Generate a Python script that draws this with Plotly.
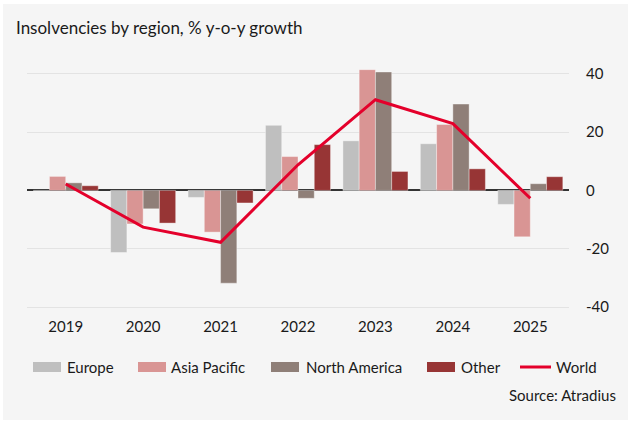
import plotly.graph_objects as go

years = ["2019", "2020", "2021", "2022", "2023", "2024", "2025"]
europe = [0.0, -21.3, -2.4, 22.3, 17.0, 16.0, -4.8]
asia_pacific = [4.8, -11.5, -14.3, 11.6, 41.4, 22.6, -15.9]
north_america = [2.6, -6.3, -31.8, -2.7, 40.6, 29.6, 2.3]
other = [1.6, -11.2, -4.3, 15.7, 6.5, 7.4, 4.7]
world = [2.2, -12.6, -17.8, 8.8, 31.1, 22.9, -2.7]

series_names = ["Europe", "Asia Pacific", "North America", "Other"]
series_vals = [europe, asia_pacific, north_america, other]
colors = ["#bfbfbf", "#d99594", "#8f7f78", "#973535"]
world_color = "#e4002b"
y_ticks = [40, 20, 0, -20, -40]

W, H = 632, 424
L, R, T, B = 27, 63, 65, 114
FONT = "Lato"

fig = go.Figure()
for name, vals, c in zip(series_names, series_vals, colors):
    fig.add_trace(go.Bar(x=years, y=vals, name=name, marker=dict(color=c, line=dict(color="rgba(255,255,255,0.45)", width=0.8)), showlegend=False))
fig.add_trace(go.Scatter(x=years, y=world, name="World", mode="lines", line=dict(color=world_color, width=3), showlegend=False))

pw = W - L - R
ph = H - T - B
def px_x(px):
    return (px - L) / pw
def px_y(py):
    return (H - B - py) / ph

shapes = [dict(type="rect", xref="paper", yref="paper", x0=px_x(3), x1=px_x(628), y0=px_y(420), y1=px_y(4),
               fillcolor="#f5f5f5", line=dict(width=0), layer="below")]
annotations = [dict(text="Insolvencies by region, % y-o-y growth", xref="paper", yref="paper",
                    x=px_x(14), y=px_y(28), xanchor="left", yanchor="middle", showarrow=False,
                    font=dict(family=FONT, size=17, color="#1a1a1a"))]

# custom legend
leg_items = [(33, 65, "Europe", colors[0], "bar"), (138, 169, "Asia Pacific", colors[1], "bar"),
             (271, 304, "North America", colors[2], "bar"), (427, 459, "Other", colors[3], "bar"),
             (520, 554, "World", world_color, "line")]
ly = 367
for x0, tx, label, c, kind in leg_items:
    if kind == "bar":
        shapes.append(dict(type="rect", xref="paper", yref="paper", x0=px_x(x0), x1=px_x(x0 + 28),
                           y0=px_y(ly + 5), y1=px_y(ly - 5), fillcolor=c, line=dict(width=0)))
    else:
        shapes.append(dict(type="line", xref="paper", yref="paper", x0=px_x(x0), x1=px_x(x0 + 31),
                           y0=px_y(ly), y1=px_y(ly), line=dict(color=c, width=3)))
    annotations.append(dict(text=label, xref="paper", yref="paper", x=px_x(tx), y=px_y(ly),
                            xanchor="left", yanchor="middle", showarrow=False,
                            font=dict(family=FONT, size=15, color="#1a1a1a")))
annotations.append(dict(text="Source: Atradius", xref="paper", yref="paper", x=px_x(618), y=px_y(395),
                        xanchor="right", yanchor="middle", showarrow=False,
                        font=dict(family=FONT, size=15, color="#1a1a1a")))

fig.update_layout(
    width=W, height=H,
    margin=dict(l=L, r=R, t=T, b=B),
    paper_bgcolor="white", plot_bgcolor="#f5f5f5",
    barmode="group", bargap=0.16, bargroupgap=0,
    font=dict(family=FONT, size=15, color="#1a1a1a"),
    shapes=shapes, annotations=annotations,
    xaxis=dict(showgrid=False, showline=False, ticks="", tickfont=dict(size=15), ticklabelstandoff=6),
    yaxis=dict(side="right", range=[-41, 43], tickvals=y_ticks, ticktext=[str(v) for v in y_ticks],
               showgrid=True, gridcolor="#e3e3e3", gridwidth=1,
               zeroline=True, zerolinecolor="#333333", zerolinewidth=1.5,
               ticks="", ticklabelstandoff=16, tickfont=dict(size=15)),
)
fig.write_html("out.html")
